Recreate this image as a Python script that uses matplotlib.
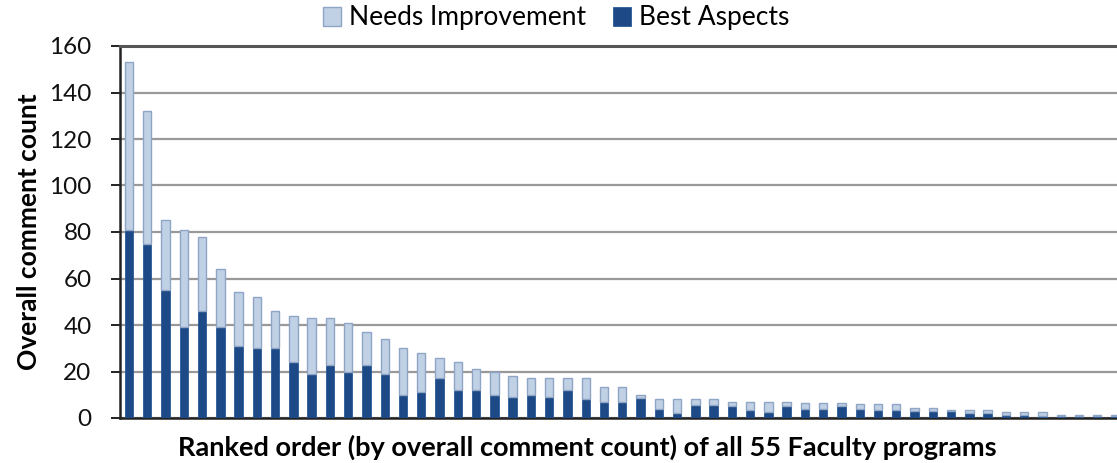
import matplotlib
matplotlib.use("Agg")
import matplotlib.pyplot as plt
import numpy as np

plt.rcParams['font.family'] = ['Lato', 'DejaVu Sans']

# Data (55 programs, ranked)
totals = [153, 132, 85, 81, 78, 64, 54, 52, 46, 44, 43, 43, 41, 37, 34,
          30, 28, 26, 24, 21, 20, 18, 17, 17, 17, 17, 13.5, 13.5, 10, 8,
          8, 8, 8, 7, 7, 7, 7, 6.5, 6.5, 6.5, 6, 6, 6, 4.5, 4.5,
          3.5, 3.5, 3.5, 2.6, 2.6, 2.6, 1.4, 1.4, 1.4, 1.2]
best_aspects = [81, 75, 55, 39, 46, 39, 31, 30, 30, 24, 19, 23, 20, 23, 19,
                10, 11, 17, 12, 12, 10, 9, 10, 9, 12, 8, 7, 7, 8.5, 4,
                2, 5.5, 5.5, 5, 3.5, 2.5, 5, 4, 4, 5, 4, 3.5, 3.5, 3, 3,
                3.2, 2, 2, 1.5, 1.5, 0.8, 0.8, 0.8, 0.8, 0.8]
needs_improvement = [t - b for t, b in zip(totals, best_aspects)]
programs = np.arange(len(totals))

yticks = [0, 20, 40, 60, 80, 100, 120, 140, 160]

fig = plt.figure(figsize=(11.17, 4.63), dpi=100)
ax = fig.add_axes([120 / 1117, 1 - 418 / 463, (1117 - 120) / 1117, (418 - 46) / 463])

dark = '#1d4a86'
light = '#c0d0e5'
w = 0.46
ax.bar(programs, best_aspects, width=w, color=dark, edgecolor='#2a5a98',
       linewidth=0.6, zorder=3, label='Best Aspects')
ax.bar(programs, needs_improvement, bottom=best_aspects, width=w, color=light,
       edgecolor='#8ea5c6', linewidth=1.0, zorder=3, label='Needs Improvement')

ax.set_ylim(0, 160)
ax.set_xlim(-0.49, 54.08)
ax.set_yticks(yticks)
ax.set_yticklabels([str(v) for v in yticks], fontsize=17.5)
ax.set_xticks([])
ax.yaxis.grid(True, color='#999999', linewidth=1.6, zorder=0)
ax.set_axisbelow(True)
ax.spines['right'].set_visible(False)
ax.spines['top'].set_linewidth(2.2)
ax.spines['top'].set_color('#555555')
ax.spines['left'].set_linewidth(1.8)
ax.spines['bottom'].set_linewidth(1.8)
ax.spines['left'].set_color('#222222')
ax.spines['bottom'].set_color('#222222')
ax.tick_params(axis='y', length=6.5, width=1.3, pad=14, colors='#111111')

ax.set_ylabel('Overall comment count', fontsize=19, fontweight='bold', labelpad=6)
ax.set_xlabel('Ranked order (by overall comment count) of all 55 Faculty programs',
              fontsize=19.5, fontweight='bold')
ax.xaxis.set_label_coords((587 - 120) / 997, -29 / 372, transform=ax.transAxes)
ax.xaxis.label.set_va('center')

handles, labels = ax.get_legend_handles_labels()
fig.legend(handles[::-1], labels[::-1], loc='center', bbox_to_anchor=(556 / 1117, 1 - 18 / 463),
           ncol=2, frameon=False, fontsize=19, handlelength=0.7, handleheight=0.7,
           handletextpad=0.3, columnspacing=1.0, borderpad=0.1)

fig.savefig('out.png', dpi=100)
